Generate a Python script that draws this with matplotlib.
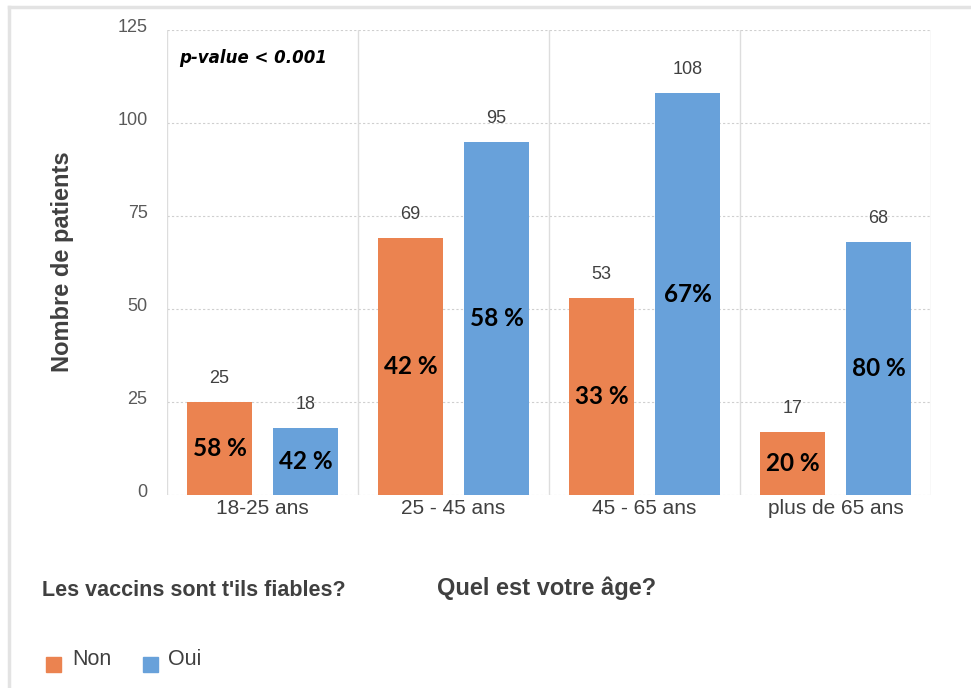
import matplotlib.pyplot as plt
import matplotlib.transforms as mtransforms
import numpy as np

# data
ages = ["18-25 ans", "25 - 45 ans", "45 - 65 ans", "plus de 65 ans"]
non = [25, 69, 53, 17]
oui = [18, 95, 108, 68]
pct_non = ["58 %", "42 %", "33 %", "20 %"]
pct_oui = ["42 %", "58 %", "67%", "80 %"]
yticks = [0, 25, 50, 75, 100, 125]

orange = "#EB8350"
blue = "#68A1DA"
gray_txt = "#404040"

plt.rcParams["font.family"] = ["Liberation Sans", "DejaVu Sans"]

W, H = 971, 688
fig = plt.figure(figsize=(W / 100, H / 100), dpi=100)
ax = fig.add_axes([167 / W, 1 - 495 / H, 764 / W, 465 / H])

x = np.arange(len(ages))
w = 0.34
off = 0.225
b1 = ax.bar(x - off, non, w, color=orange, zorder=3)
b2 = ax.bar(x + off, oui, w, color=blue, zorder=3)

for bars, vals, pcts in [(b1, non, pct_non), (b2, oui, pct_oui)]:
    for r, v, p in zip(bars, vals, pcts):
        cx = r.get_x() + r.get_width() / 2
        ax.text(cx, v + 4, str(v), ha="center", va="bottom", fontsize=13, color=gray_txt)
        ax.text(cx, v / 2, p, ha="center", va="center", fontsize=17.5,
                fontweight="bold", family="Lato", color="black", zorder=4)

ax.set_xlim(-0.5, len(ages) - 0.5)
ax.set_ylim(0, 125)
ax.set_yticks(yticks)
ax.set_yticklabels([str(t) for t in yticks], fontsize=13, color="#595959")
ax.set_xticks(x)
ax.set_xticklabels(ages, fontsize=15, color=gray_txt)
ax.tick_params(length=0)
ax.tick_params(axis="y", pad=14)
ax.tick_params(axis="x", pad=3)
# y labels sit a little above their gridlines in the original
shift = mtransforms.ScaledTranslation(0, 3.5 / 72, fig.dpi_scale_trans)
for lab in ax.get_yticklabels():
    lab.set_transform(lab.get_transform() + shift)

for yv in yticks:
    ax.axhline(yv, color="#cfcfcf", lw=0.8, ls=(0, (2, 2)), zorder=1)
for xv in np.arange(-0.5, len(ages), 1.0):
    ax.axvline(xv, color="#dddddd", lw=1.0, zorder=1)
for s in ax.spines.values():
    s.set_visible(False)

fig.text(62 / W, 1 - 262 / H, "Nombre de patients", rotation=90, ha="center", va="center",
         fontsize=17, fontweight="bold", color=gray_txt)

ax.text(0.016, 0.94, "p-value < 0.001", transform=ax.transAxes, fontsize=12, va="center",
        fontweight="bold", style="italic", family="DejaVu Sans", color="black")

fig.text(42 / W, 1 - 591 / H, "Les vaccins sont t'ils fiables?", va="center",
         fontsize=15.5, fontweight="bold", color=gray_txt)
fig.text(437 / W, 1 - 588 / H, "Quel est votre âge?", va="center",
         fontsize=17, fontweight="bold", color=gray_txt)

# legend squares
fig.patches.append(plt.Rectangle((46 / W, 1 - 672 / H), 15 / W, 15 / H, color=orange,
                                 transform=fig.transFigure))
fig.text(72 / W, 1 - 665 / H, "Non", fontsize=15.5, color=gray_txt, va="baseline")
fig.patches.append(plt.Rectangle((143 / W, 1 - 672 / H), 15 / W, 15 / H, color=blue,
                                 transform=fig.transFigure))
fig.text(168 / W, 1 - 665 / H, "Oui", fontsize=15.5, color=gray_txt, va="baseline")

# outer frame lines
fig.add_artist(plt.Line2D([9 / W, 1.0], [1 - 7 / H, 1 - 7 / H], color="#e3e3e3", lw=2.5,
                          transform=fig.transFigure))
fig.add_artist(plt.Line2D([9 / W, 9 / W], [0.0, 1 - 7 / H], color="#e3e3e3", lw=2.5,
                          transform=fig.transFigure))

fig.savefig("out.png", dpi=100)
